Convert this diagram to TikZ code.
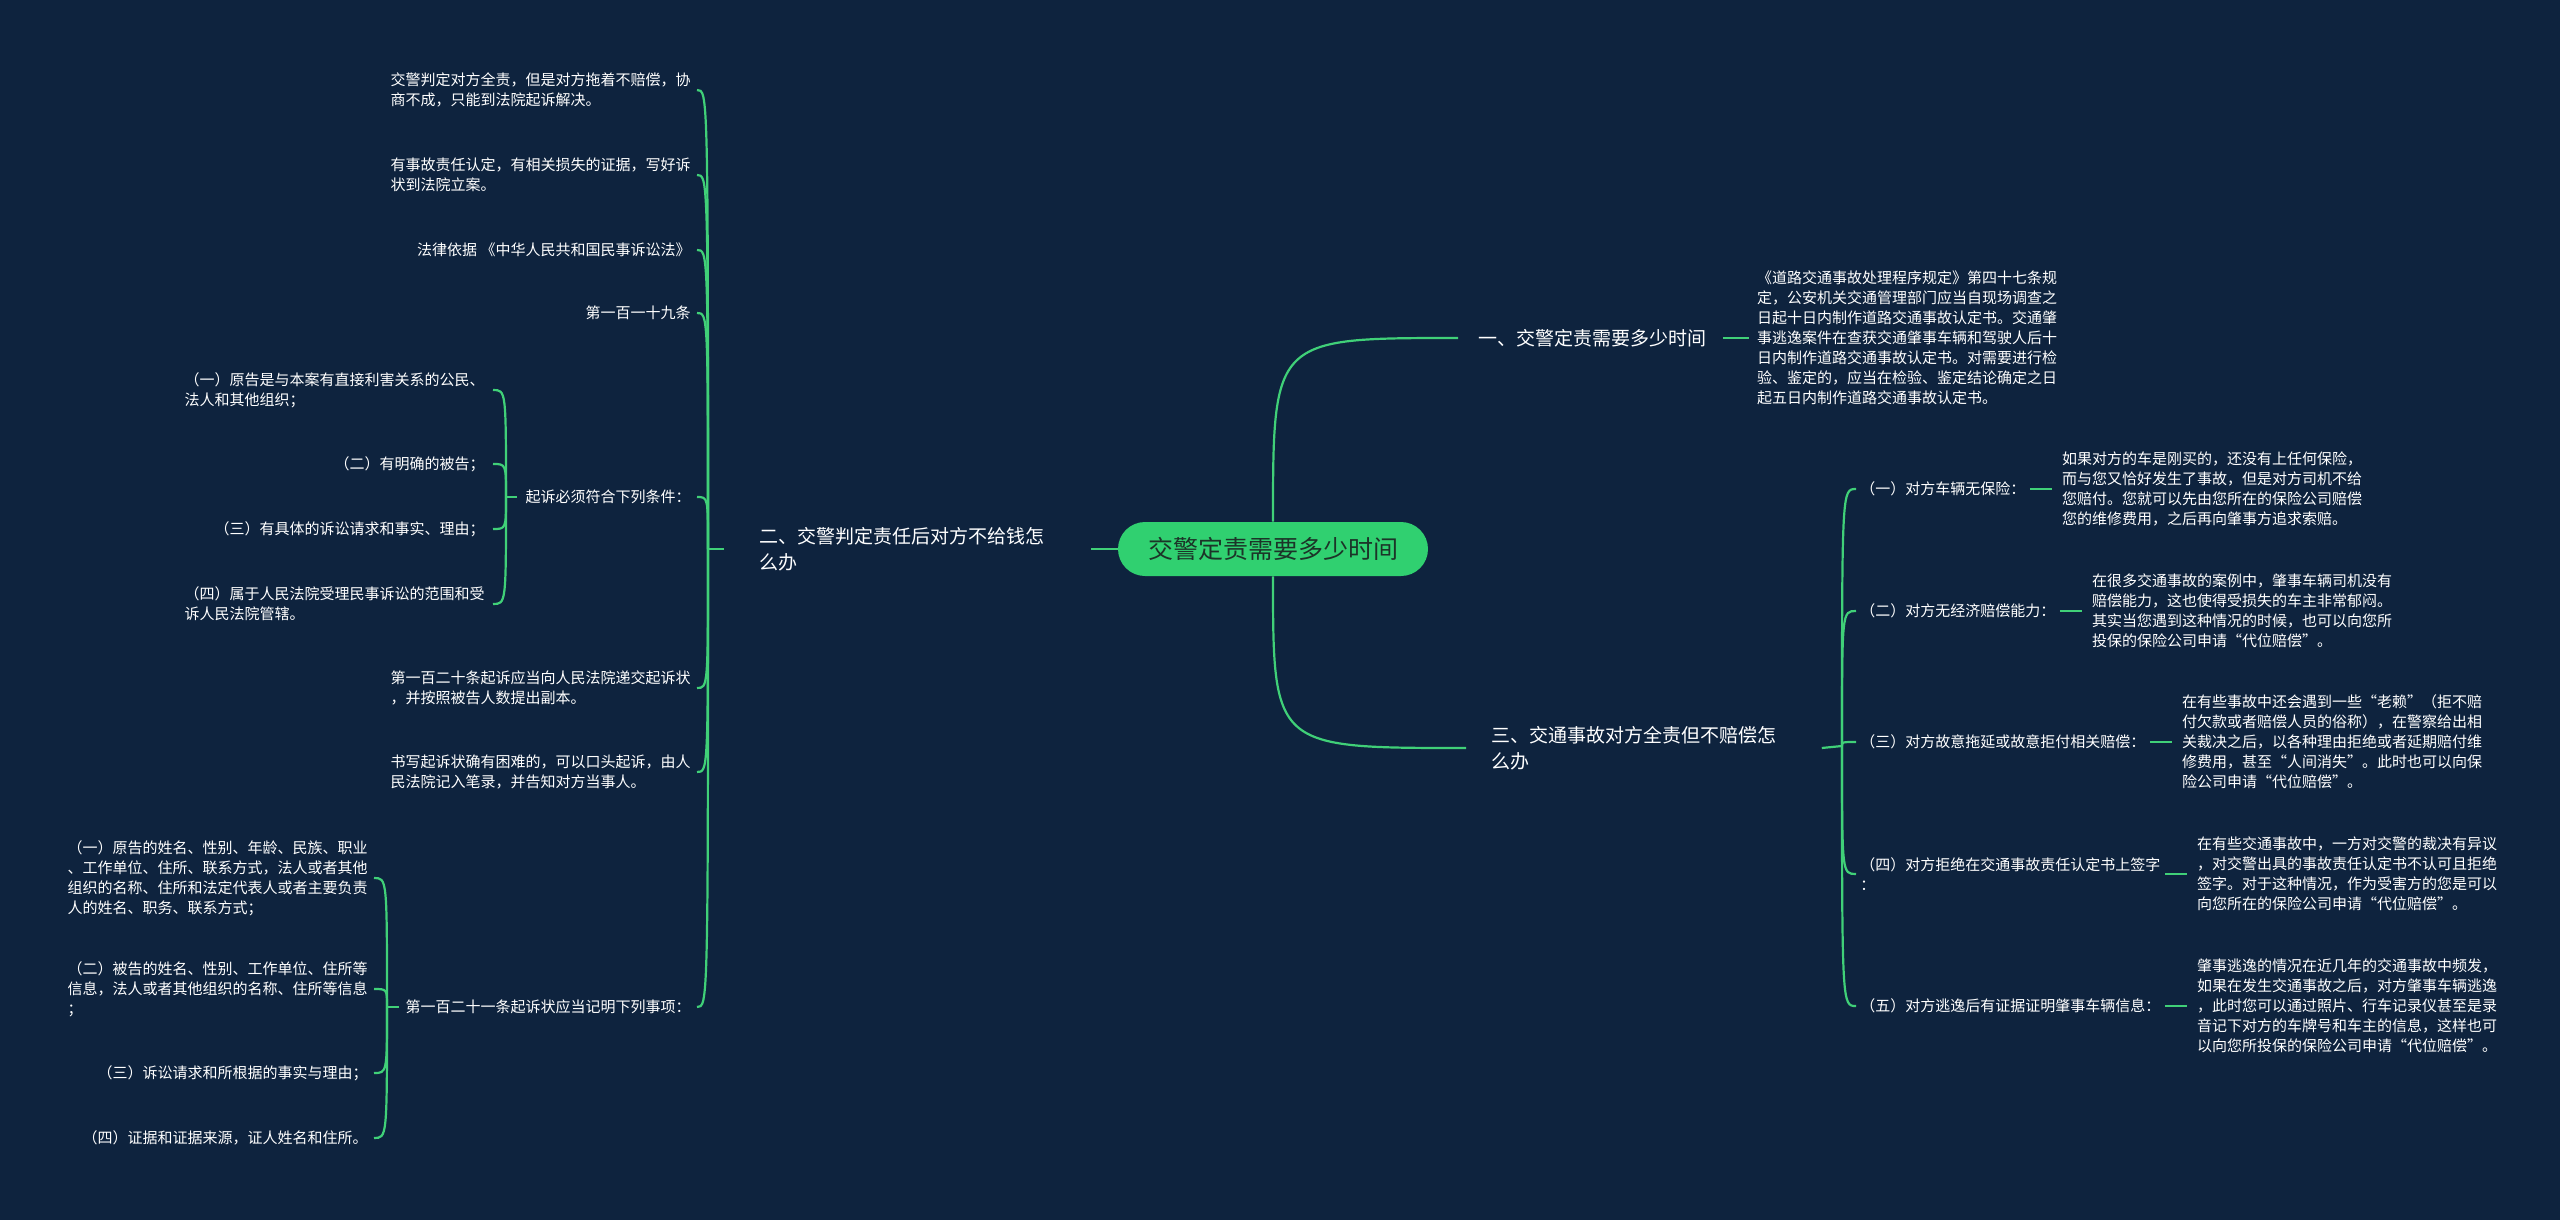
\documentclass[tikz,border=0pt]{standalone}
\usepackage{fontspec}
\newfontfamily\cjkfont{Noto Sans CJK SC}
\usetikzlibrary{positioning, calc}

\definecolor{bgnavy}{RGB}{14,35,62}
\definecolor{linkgreen}{RGB}{64,208,120}
\definecolor{rootgreen}{RGB}{48,208,112}
\definecolor{rootink}{RGB}{28,52,40}

\begin{document}
\begin{tikzpicture}[
    x=0.5pt,
    y=-0.5pt,
    link/.style={draw=linkgreen, line width=1.1pt},
    rootbox/.style={rectangle, rounded corners=13.5pt, fill=rootgreen, text=rootink,
        minimum width=155pt, minimum height=27pt, font=\cjkfont\fontsize{12.5}{15}\selectfont},
    topic/.style={inner sep=0pt, align=left, text=white, font=\cjkfont\fontsize{9.5}{13}\selectfont},
    leaf/.style={inner sep=0pt, align=left, text=white, font=\cjkfont\fontsize{7.5}{10}\selectfont}
]

\fill[bgnavy] (0,0) rectangle (2560,1220);
\useasboundingbox (0,0) rectangle (2560,1220);

%---------------- Root ----------------
\node[rootbox] (root) at (1273,549) {交警定责需要多少时间};

%---------------- Topics ----------------
\node[topic, anchor=west] (b1) at (1478,338) {一、交警定责需要多少时间};
\node[topic, anchor=west] (b2) at (759,549) {二、交警判定责任后对方不给钱怎\\么办};
\node[topic, anchor=west] (b3) at (1491,748) {三、交通事故对方全责但不赔偿怎\\么办};

\draw[link] (root.north) .. controls (root.north |- b1.west) .. ($(b1.west)+(-20,0)$);
\draw[link] (root.south) .. controls (root.south |- b3.west) .. ($(b3.west)+(-25,0)$);
\draw[link] (root.west) -- ($(b2.east)+(46,0)$);

%---------------- Topic one ----------------
\node[leaf, right=25pt of b1] (b1d) {《道路交通事故处理程序规定》第四十七条规\\定，公安机关交通管理部门应当自现场调查之\\日起十日内制作道路交通事故认定书。交通肇\\事逃逸案件在查获交通肇事车辆和驾驶人后十\\日内制作道路交通事故认定书。对需要进行检\\验、鉴定的，应当在检验、鉴定结论确定之日\\起五日内制作道路交通事故认定书。};
\draw[link] ([xshift=8pt]b1.east) -- ([xshift=-4pt]b1d.west);

%---------------- Topic three ----------------
\coordinate (j3) at (1842,746);
\draw[link] ($(b3.east)+(45,0)$) -- (j3);

\foreach \i/\y/\lab/\det in {
    1/489/{（一）对方车辆无保险：}/{如果对方的车是刚买的，还没有上任何保险，\\而与您又恰好发生了事故，但是对方司机不给\\您赔付。您就可以先由您所在的保险公司赔偿\\您的维修费用，之后再向肇事方追求索赔。},
    2/611/{（二）对方无经济赔偿能力：}/{在很多交通事故的案例中，肇事车辆司机没有\\赔偿能力，这也使得受损失的车主非常郁闷。\\其实当您遇到这种情况的时候，也可以向您所\\投保的保险公司申请“代位赔偿”。},
    3/742/{（三）对方故意拖延或故意拒付相关赔偿：}/{在有些事故中还会遇到一些“老赖”（拒不赔\\付欠款或者赔偿人员的俗称），在警察给出相\\关裁决之后，以各种理由拒绝或者延期赔付维\\修费用，甚至“人间消失”。此时也可以向保\\险公司申请“代位赔偿”。},
    4/874/{（四）对方拒绝在交通事故责任认定书上签字\\：}/{在有些交通事故中，一方对交警的裁决有异议\\，对交警出具的事故责任认定书不认可且拒绝\\签字。对于这种情况，作为受害方的您是可以\\向您所在的保险公司申请“代位赔偿”。},
    5/1006/{（五）对方逃逸后有证据证明肇事车辆信息：}/{肇事逃逸的情况在近几年的交通事故中频发，\\如果在发生交通事故之后，对方肇事车辆逃逸\\，此时您可以通过照片、行车记录仪甚至是录\\音记下对方的车牌号和车主的信息，这样也可\\以向您所投保的保险公司申请“代位赔偿”。}} {
    \node[leaf, anchor=west] (c3\i) at (1860,\y) {\lab};
    \node[leaf, right=18pt of c3\i] (d3\i) {\det};
    \draw[link] (j3) .. controls (j3 |- c3\i.west) .. ($(c3\i.west)+(-4,0)$);
    \draw[link] ([xshift=2pt]c3\i.east) -- ([xshift=-5pt]d3\i.west);
}

%---------------- Topic two ----------------
\coordinate (j2) at (708,549);
\draw[link] ($(b2.west)+(-35,0)$) -- (j2);

\foreach \i/\y/\lab in {
    1/90/{交警判定对方全责，但是对方拖着不赔偿，协\\商不成，只能到法院起诉解决。},
    2/175/{有事故责任认定，有相关损失的证据，写好诉\\状到法院立案。},
    3/250/{法律依据 《中华人民共和国民事诉讼法》},
    4/313/{第一百一十九条},
    5/497/{起诉必须符合下列条件：},
    6/688/{第一百二十条起诉应当向人民法院递交起诉状\\，并按照被告人数提出副本。},
    7/772/{书写起诉状确有困难的，可以口头起诉，由人\\民法院记入笔录，并告知对方当事人。},
    8/1007/{第一百二十一条起诉状应当记明下列事项：}} {
    \node[leaf, anchor=east] (l\i) at (691,\y) {\lab};
    \draw[link] (j2) .. controls (j2 |- l\i.east) .. ($(l\i.east)+(6,0)$);
}

% conditions of article 119
\coordinate (j5) at (506,497);
\draw[link] ($(l5.west)+(-8,0)$) -- (j5);
\foreach \i/\y/\lab in {
    1/390/{（一）原告是与本案有直接利害关系的公民、\\法人和其他组织；},
    2/464/{（二）有明确的被告；},
    3/529/{（三）有具体的诉讼请求和事实、理由；},
    4/604/{（四）属于人民法院受理民事诉讼的范围和受\\诉人民法院管辖。}} {
    \node[leaf, anchor=east] (m\i) at (485,\y) {\lab};
    \draw[link] (j5) .. controls (j5 |- m\i.east) .. ($(m\i.east)+(8,0)$);
}

% items of article 121
\coordinate (j8) at (387,1007);
\draw[link] ($(l8.west)+(-6,0)$) -- (j8);
\foreach \i/\y/\lab in {
    1/878/{（一）原告的姓名、性别、年龄、民族、职业\\、工作单位、住所、联系方式，法人或者其他\\组织的名称、住所和法定代表人或者主要负责\\人的姓名、职务、联系方式；},
    2/989/{（二）被告的姓名、性别、工作单位、住所等\\信息，法人或者其他组织的名称、住所等信息\\；},
    3/1073/{（三）诉讼请求和所根据的事实与理由；},
    4/1138/{（四）证据和证据来源，证人姓名和住所。}} {
    \node[leaf, anchor=east] (n\i) at (368,\y) {\lab};
    \draw[link] (j8) .. controls (j8 |- n\i.east) .. ($(n\i.east)+(6,0)$);
}

\end{tikzpicture}
\end{document}
